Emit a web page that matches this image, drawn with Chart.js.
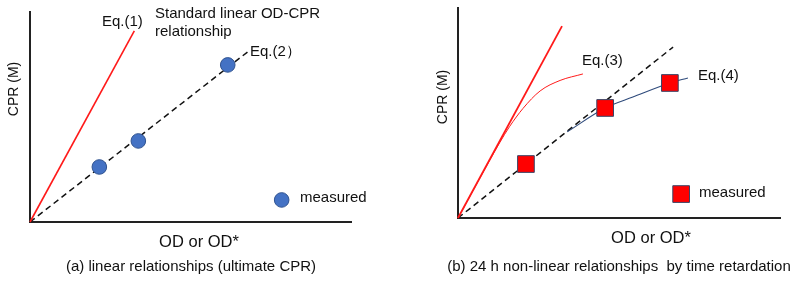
<!DOCTYPE html>
<html><head><meta charset="utf-8">
<script src="https://cdn.jsdelivr.net/npm/chart.js@4/dist/chart.umd.min.js"></script>
<style>
html,body{margin:0;padding:0;background:#fff;}
#wrap{position:relative;width:800px;height:284px;overflow:hidden;background:#fff}
.pane{position:absolute;top:0;width:400px;height:284px}
</style></head><body>
<div id="wrap">
<div class="pane" style="left:0"><canvas id="ca" width="400" height="284"></canvas></div>
<div class="pane" style="left:400px"><canvas id="cb" width="400" height="284"></canvas></div>
</div>
<script>
// ---- Panel (a) data (schematic units 0..10) ----
const eq1X = [0, 3.25];
const eq1Y = [0, 9.1];
const eq2X = [0, 6.78];
const eq2Y = [0, 8.1];
const measuredAX = [2.16, 3.375, 6.16];
const measuredAY = [2.62, 3.86, 7.48];
const legendAX = [7.84];
const legendAY = [1.05];

// ---- Panel (b) data ----
const linBX = [0, 3.23];
const linBY = [0, 9.14];
const eq3X = [0, 0.68, 1.3, 1.6, 2.02, 2.55, 3.17, 3.88];
const eq3Y = [0, 1.9, 3.6, 4.35, 5.22, 6.05, 6.55, 6.86];
const dashBX = [0, 6.68];
const dashBY = [0, 8.14];
const eq4X = [3.39, 4.57, 5.43, 6.58, 7.14];
const eq4Y = [4.10, 5.24, 5.76, 6.43, 6.67];
const measuredBX = [2.11, 4.57, 6.58];
const measuredBY = [2.57, 5.24, 6.43];
const legendBX = [6.93];
const legendBY = [1.14];

const FONT = "'Liberation Sans', Arial, sans-serif";
const pts = (xs, ys) => xs.map((x, i) => ({x: x, y: ys[i]}));

const textPlugin = {
  id: 'texts',
  afterDraw(chart, args, opts) {
    const ctx = chart.ctx;
    (opts.items || []).forEach(t => {
      ctx.save();
      ctx.fillStyle = '#111';
      ctx.font = (t.size || 15) + 'px ' + FONT;
      ctx.textAlign = t.align || 'left';
      ctx.textBaseline = 'middle';
      ctx.translate(t.x, t.y);
      if (t.rot) ctx.rotate(t.rot);
      ctx.fillText(t.text, 0, 0);
      ctx.restore();
    });
  }
};

function scales() {
  const common = {
    type: 'linear', min: 0, max: 10,
    ticks: {display: false},
    grid: {display: false, drawTicks: false},
    border: {display: true, color: '#222', width: 2}
  };
  return {x: Object.assign({position: 'bottom'}, common), y: Object.assign({position: 'left'}, common)};
}

function makeChart(id, datasets, padding, items) {
  return new Chart(document.getElementById(id), {
    type: 'scatter',
    data: {datasets: datasets},
    options: {
      responsive: false, animation: false,
      layout: {padding: padding, autoPadding: false},
      scales: scales(),
      plugins: {legend: {display: false}, tooltip: {enabled: false}, title: {display: false}, texts: {items: items}}
    },
    plugins: [textPlugin]
  });
}

const circleStyle = {pointStyle: 'circle', pointRadius: 7.3, backgroundColor: '#4472c4', borderColor: '#2f528f', borderWidth: 1, showLine: false, clip: false};
const squareStyle = {pointStyle: 'rect', pointRadius: 11.8, backgroundColor: '#ff0000', borderColor: '#3a4566', borderWidth: 1, showLine: false, clip: false};

makeChart('ca', [
  Object.assign({label: 'measured', data: pts(measuredAX, measuredAY), order: 0}, circleStyle),
  Object.assign({label: 'legend', data: pts(legendAX, legendAY), order: 0}, circleStyle),
  {label: 'Eq.(1)', data: pts(eq1X, eq1Y), showLine: true, pointRadius: 0, borderColor: '#ff1a1a', borderWidth: 1.6, order: 2, clip: false},
  {label: 'Eq.(2)', data: pts(eq2X, eq2Y), showLine: true, pointRadius: 0, borderColor: '#111', borderWidth: 1.5, borderDash: [6, 4], order: 2, clip: false}
], {left: 30, right: 49, top: 12, bottom: 62}, [
  {text: 'Eq.(1)', x: 102, y: 22},
  {text: 'Standard linear OD-CPR', x: 155, y: 14},
  {text: 'relationship', x: 155, y: 32},
  {text: 'Eq.(2\uFF09', x: 250, y: 52},
  {text: 'measured', x: 300, y: 198},
  {text: 'CPR (M)', x: 14, y: 89, size: 14, align: 'center', rot: -Math.PI / 2},
  {text: 'OD or OD*', x: 199, y: 242, size: 16.5, align: 'center'},
  {text: '(a) linear relationships (ultimate CPR)', x: 191, y: 267, size: 15, align: 'center'}
]);

makeChart('cb', [
  Object.assign({label: 'measured', data: pts(measuredBX, measuredBY), order: 0}, squareStyle),
  Object.assign({label: 'legend', data: pts(legendBX, legendBY), order: 0}, squareStyle),
  {label: 'linear', data: pts(linBX, linBY), showLine: true, pointRadius: 0, borderColor: '#ff1a1a', borderWidth: 1.8, order: 2, clip: false},
  {label: 'Eq.(3)', data: pts(eq3X, eq3Y), showLine: true, pointRadius: 0, borderColor: '#ff1a1a', borderWidth: 1, cubicInterpolationMode: 'monotone', order: 2, clip: false},
  {label: 'dashed', data: pts(dashBX, dashBY), showLine: true, pointRadius: 0, borderColor: '#111', borderWidth: 1.5, borderDash: [6, 4], order: 2, clip: false},
  {label: 'Eq.(4)', data: pts(eq4X, eq4Y), showLine: true, pointRadius: 0, borderColor: '#2f4b7c', borderWidth: 1.1, cubicInterpolationMode: 'monotone', order: 1, clip: false}
], {left: 58, right: 20, top: 8, bottom: 66}, [
  {text: 'Eq.(3)', x: 182, y: 61},
  {text: 'Eq.(4)', x: 298, y: 76},
  {text: 'measured', x: 299, y: 193},
  {text: 'CPR (M)', x: 43, y: 97, size: 14, align: 'center', rot: -Math.PI / 2},
  {text: 'OD or OD*', x: 251, y: 238, size: 16.5, align: 'center'},
  {text: '(b) 24 h non-linear relationships  by time retardation', x: 219, y: 267, size: 15, align: 'center'}
]);
</script>
</body></html>
